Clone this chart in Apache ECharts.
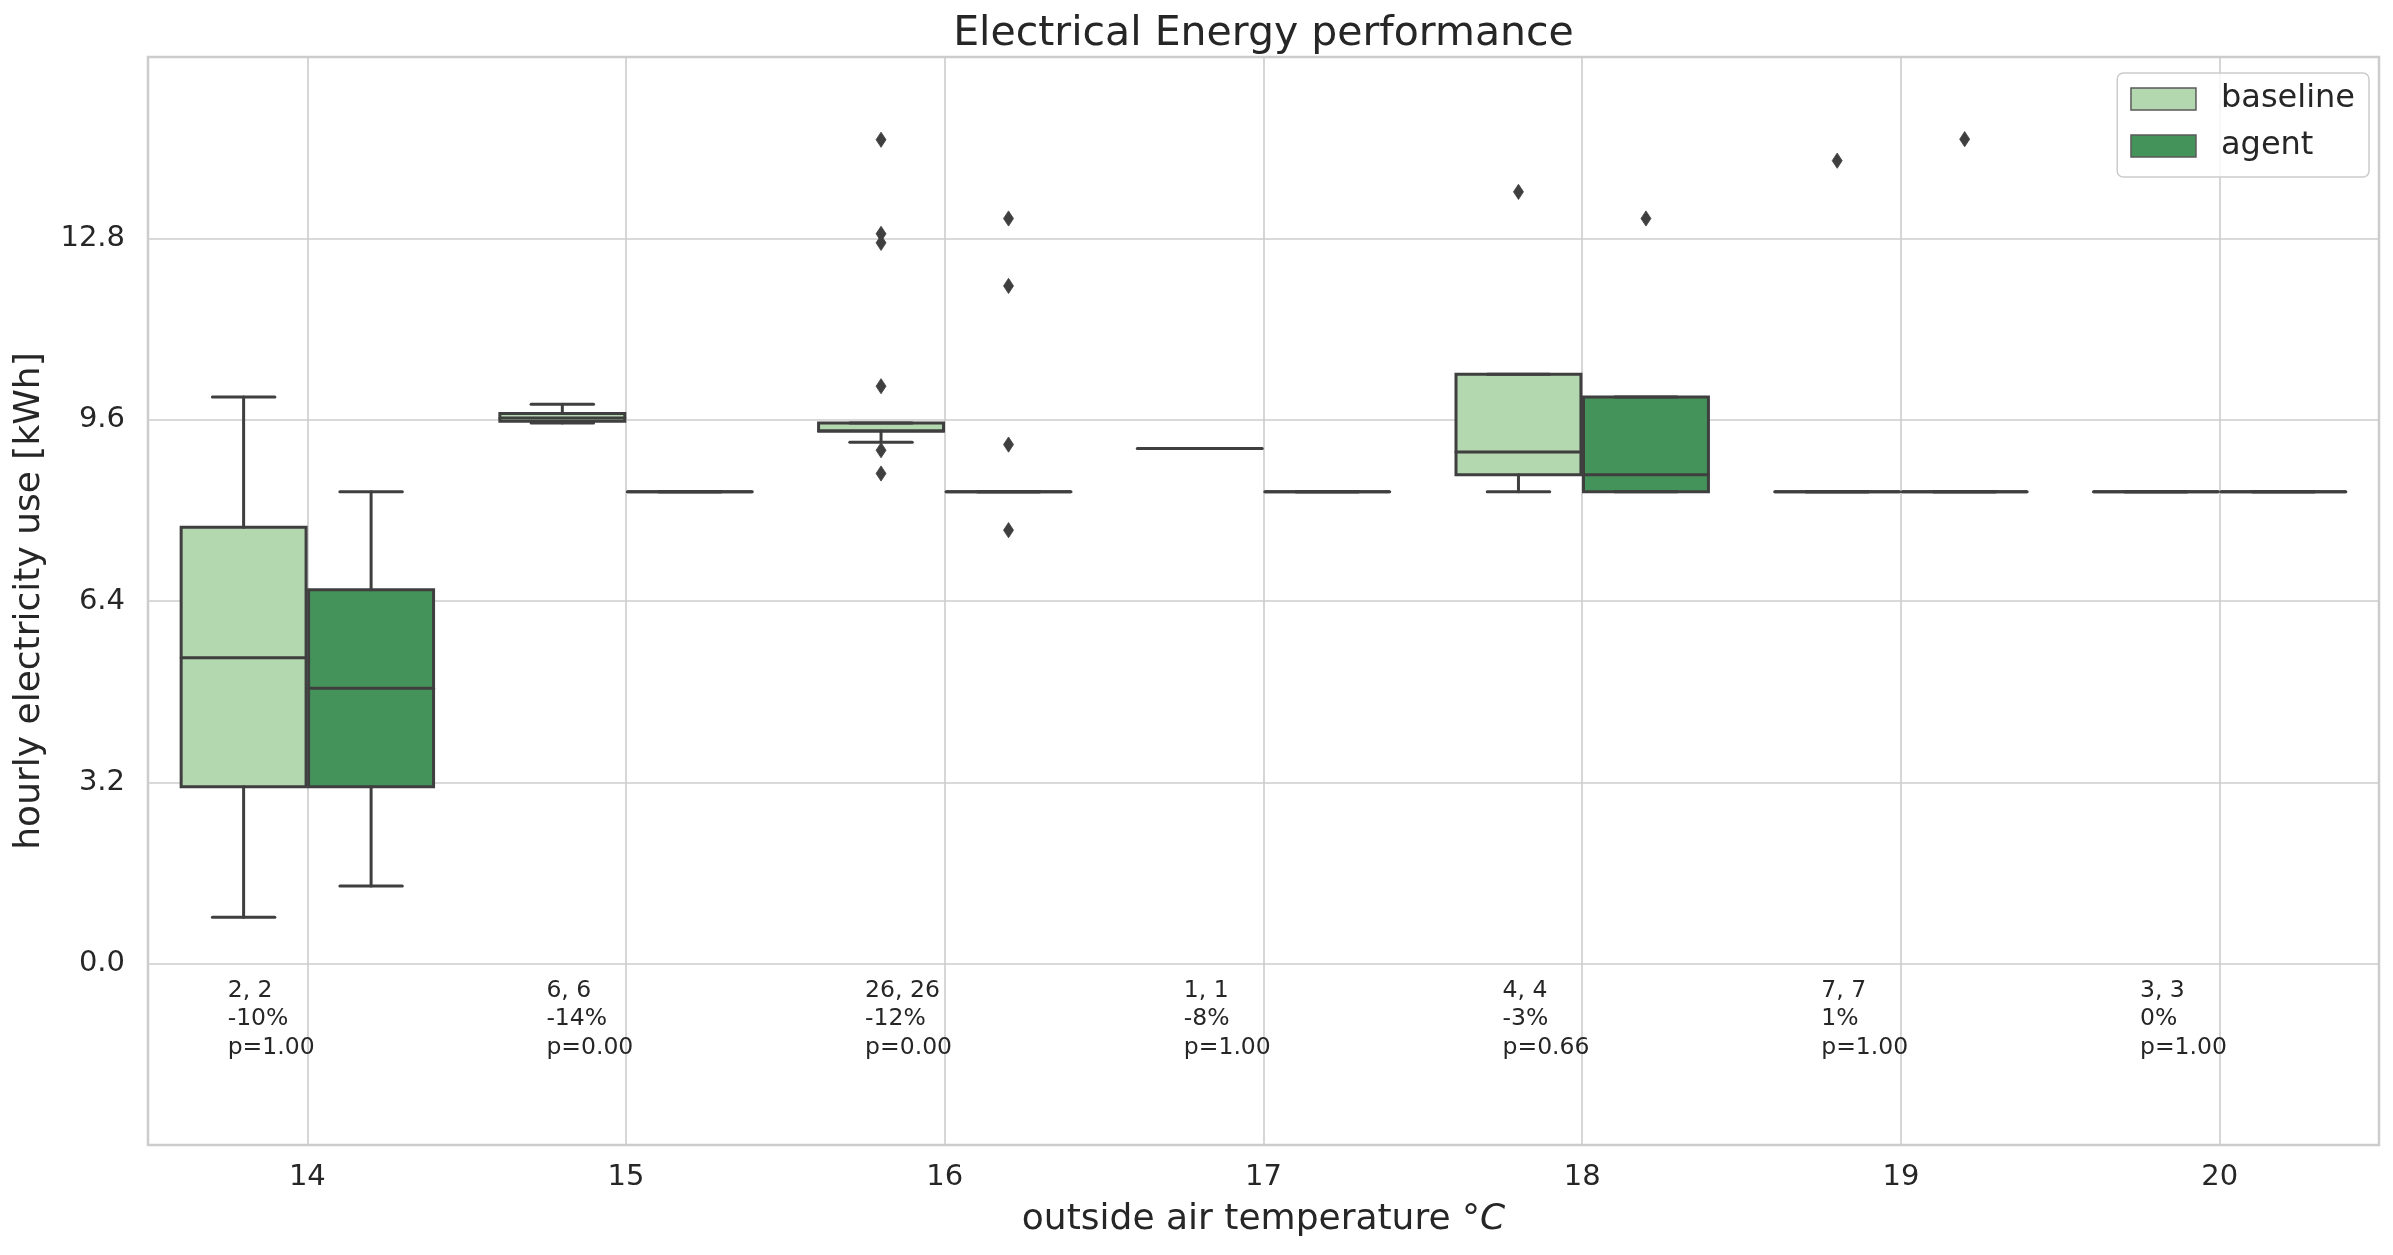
<!DOCTYPE html>
<html>
<head>
<meta charset="utf-8">
<script src="https://cdn.jsdelivr.net/npm/echarts@6/dist/echarts.min.js"></script>
<style>
html,body{margin:0;padding:0;background:#ffffff;}
#chart{width:2393px;height:1255px;}
</style>
</head>
<body>
<div id="chart"></div>
<script>
// ---------------- data ----------------
const categories = ['14', '15', '16', '17', '18', '19', '20'];
// per category: [lower whisker, q1, median, q3, upper whisker]
const baselineStats = [
  [0.82, 3.12, 5.40, 7.70, 10.00],
  [9.54, 9.57, 9.63, 9.71, 9.87],
  [9.20, 9.40, 9.40, 9.54, 9.54],
  [9.09, 9.09, 9.09, 9.09, 9.09],
  [8.33, 8.63, 9.03, 10.40, 10.40],
  [8.33, 8.33, 8.33, 8.33, 8.33],
  [8.33, 8.33, 8.33, 8.33, 8.33]
];
const agentStats = [
  [1.37, 3.12, 4.86, 6.60, 8.33],
  [8.33, 8.33, 8.33, 8.33, 8.33],
  [8.33, 8.33, 8.33, 8.33, 8.33],
  [8.33, 8.33, 8.33, 8.33, 8.33],
  [8.33, 8.33, 8.63, 10.00, 10.00],
  [8.33, 8.33, 8.33, 8.33, 8.33],
  [8.33, 8.33, 8.33, 8.33, 8.33]
];
// [category index, value]
const baselineOutliers = [[2, 14.54], [2, 12.88], [2, 12.72], [2, 10.19], [2, 9.06], [2, 8.65], [4, 13.62], [5, 14.17]];
const agentOutliers = [[2, 13.15], [2, 11.96], [2, 9.16], [2, 7.65], [4, 13.15], [5, 14.55]];
const countLabels = ['2, 2', '6, 6', '26, 26', '1, 1', '4, 4', '7, 7', '3, 3'];
const changeLabels = ['-10%', '-14%', '-12%', '-8%', '-3%', '1%', '0%'];
const pLabels = ['p=1.00', 'p=0.00', 'p=0.00', 'p=1.00', 'p=0.66', 'p=1.00', 'p=1.00'];
const yTickLabels = [0.0, 3.2, 6.4, 9.6, 12.8];

// ---------------- style ----------------
const FONT = 'DejaVu Sans';
const TEXT = '#262626';
const GRIDC = '#cccccc';
const LINE = '#3f3f3f';
const LW = 3;
const baselineColor = '#b3d7ae';
const agentColor = '#44935b';
const GRID = {left: 148, right: 14, top: 57, bottom: 110};
const W = 2393;
const plotCenterX = GRID.left + (W - GRID.left - GRID.right) / 2;

function boxRenderer(offsetFrac, fill) {
  return function (params, api) {
    const idx = api.value(0);
    const mn = api.value(1), q1 = api.value(2), md = api.value(3), q3 = api.value(4), mx = api.value(5);
    const bw = api.size([1, 0])[0];
    const cx = api.coord([idx, 0])[0] + offsetFrac * bw;
    const w = bw * 0.392;
    const capW = w / 2;
    const y = v => api.coord([idx, v])[1];
    const ls = {stroke: LINE, lineWidth: LW, lineCap: 'round'};
    return {
      type: 'group',
      children: [
        {type: 'rect', shape: {x: cx - w / 2, y: y(q3), width: w, height: y(q1) - y(q3)},
         style: {fill: fill, stroke: LINE, lineWidth: LW}},
        {type: 'line', shape: {x1: cx, y1: y(q1), x2: cx, y2: y(mn)}, style: ls},
        {type: 'line', shape: {x1: cx, y1: y(q3), x2: cx, y2: y(mx)}, style: ls},
        {type: 'line', shape: {x1: cx - capW / 2, y1: y(mn), x2: cx + capW / 2, y2: y(mn)}, style: ls},
        {type: 'line', shape: {x1: cx - capW / 2, y1: y(mx), x2: cx + capW / 2, y2: y(mx)}, style: ls},
        {type: 'line', shape: {x1: cx - w / 2, y1: y(md), x2: cx + w / 2, y2: y(md)}, style: ls}
      ]
    };
  };
}

function outlierRenderer(offsetFrac) {
  return function (params, api) {
    const bw = api.size([1, 0])[0];
    const p = api.coord([api.value(0), api.value(1)]);
    const x = p[0] + offsetFrac * bw, yy = p[1];
    const hw = 5.0, hh = 7.6;
    return {
      type: 'polygon',
      shape: {points: [[x, yy - hh], [x + hw, yy], [x, yy + hh], [x - hw, yy]]},
      style: {fill: LINE, stroke: LINE, lineWidth: 0.8}
    };
  };
}

function noteRenderer(params, api) {
  const i = params.dataIndex;
  const bw = api.size([1, 0])[0];
  const p = api.coord([api.value(0), api.value(1)]);
  return {
    type: 'text',
    x: p[0] - 0.25 * bw,
    y: p[1] + 13,
    style: {
      text: countLabels[i] + '\n' + changeLabels[i] + '\n' + pLabels[i],
      fontSize: 23.5, lineHeight: 28.3, fontFamily: FONT, fill: TEXT,
      align: 'left', verticalAlign: 'top'
    }
  };
}

const chart = echarts.init(document.getElementById('chart'), null, {renderer: 'canvas'});
chart.setOption({
  backgroundColor: '#ffffff',
  animation: false,
  title: {
    text: 'Electrical Energy performance',
    left: plotCenterX, top: 14, textAlign: 'center', padding: 0,
    textStyle: {fontFamily: FONT, fontSize: 41, fontWeight: 'normal', color: TEXT, lineHeight: 41}
  },
  legend: {
    orient: 'vertical', right: 24, top: 73,
    data: [
      {name: 'baseline', icon: 'rect', itemStyle: {color: baselineColor, borderColor: '#5a5a5a', borderWidth: 1.5}},
      {name: 'agent', icon: 'rect', itemStyle: {color: agentColor, borderColor: '#5a5a5a', borderWidth: 1.5}}
    ],
    itemWidth: 65, itemHeight: 22, itemGap: 7,
    padding: [6, 14, 11, 13],
    backgroundColor: 'rgba(255,255,255,0.8)',
    borderColor: GRIDC, borderWidth: 1.5, borderRadius: 6,
    selectedMode: false,
    textStyle: {fontFamily: FONT, fontSize: 32, color: TEXT, lineHeight: 40, padding: [0, 0, 0, 20]}
  },
  grid: {
    left: GRID.left, right: GRID.right, top: GRID.top, bottom: GRID.bottom,
    show: true, borderColor: GRIDC, borderWidth: 2.5, backgroundColor: 'transparent'
  },
  xAxis: {
    type: 'category', data: categories, boundaryGap: true,
    axisLine: {show: false}, axisTick: {show: false},
    axisLabel: {fontFamily: FONT, fontSize: 29, color: TEXT, margin: 18, lineHeight: 29, interval: 0},
    splitLine: {show: true, alignWithLabel: true, interval: 0, lineStyle: {color: GRIDC, width: 1.6}},
    name: 'outside air temperature °{i|C}', nameLocation: 'middle', nameGap: 57,
    nameTextStyle: {fontFamily: FONT, fontSize: 36, color: TEXT, lineHeight: 36,
      rich: {i: {fontFamily: FONT, fontSize: 36, fontStyle: 'italic', color: TEXT, lineHeight: 36}}}
  },
  yAxis: {
    type: 'value', min: -3.2, max: 16, interval: 3.2,
    axisLine: {show: false}, axisTick: {show: false},
    axisLabel: {
      fontFamily: FONT, fontSize: 29, color: TEXT, margin: 23,
      formatter: v => yTickLabels.some(t => Math.abs(t - v) < 1e-6) ? v.toFixed(1) : ''
    },
    splitLine: {show: true, lineStyle: {color: GRIDC, width: 1.6}},
    name: 'hourly electricity use [kWh]', nameLocation: 'middle', nameGap: 100,
    nameTextStyle: {fontFamily: FONT, fontSize: 36, color: TEXT, lineHeight: 36}
  },
  series: [
    {type: 'custom', name: 'baseline', renderItem: boxRenderer(-0.2, baselineColor),
     data: baselineStats.map((s, i) => [i].concat(s)), encode: {x: 0, y: [1, 2, 3, 4, 5]},
     itemStyle: {color: baselineColor}, z: 2},
    {type: 'custom', name: 'agent', renderItem: boxRenderer(0.2, agentColor),
     data: agentStats.map((s, i) => [i].concat(s)), encode: {x: 0, y: [1, 2, 3, 4, 5]},
     itemStyle: {color: agentColor}, z: 2},
    {type: 'custom', name: 'baseline outliers', renderItem: outlierRenderer(-0.2),
     data: baselineOutliers, encode: {x: 0, y: 1}, z: 3},
    {type: 'custom', name: 'agent outliers', renderItem: outlierRenderer(0.2),
     data: agentOutliers, encode: {x: 0, y: 1}, z: 3},
    {type: 'custom', name: 'notes', renderItem: noteRenderer,
     data: categories.map((c, i) => [i, 0]), encode: {x: 0, y: 1}, z: 4, silent: true}
  ]
});
</script>
</body>
</html>
